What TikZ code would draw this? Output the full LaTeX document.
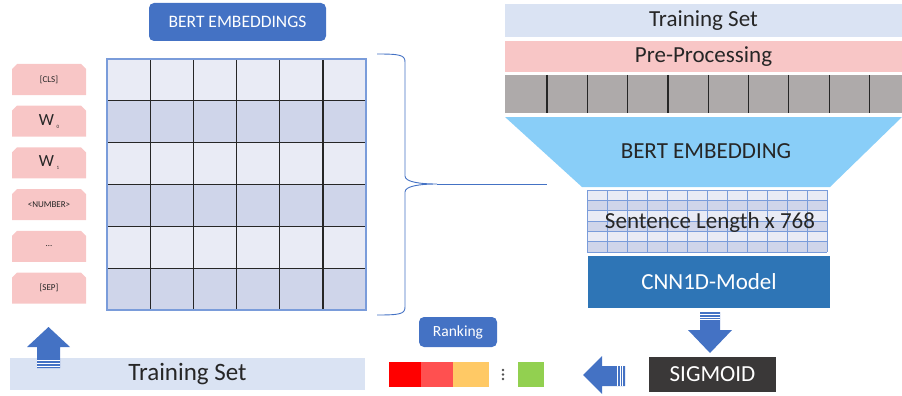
\documentclass[tikz,border=0pt]{standalone}
\usepackage{fontspec}
\setmainfont{Carlito}

\definecolor{pinkbox}{HTML}{F8C6C6}
\definecolor{barblue}{HTML}{DAE3F3}
\definecolor{graybar}{HTML}{AEAAAA}
\definecolor{trapblue}{HTML}{89CEF8}
\definecolor{btnblue}{HTML}{4472C4}
\definecolor{cnnblue}{HTML}{2E75B6}
\definecolor{sigdark}{HTML}{3A3838}
\definecolor{celllight}{HTML}{E9EBF5}
\definecolor{celldark}{HTML}{CFD5EA}
\definecolor{matblue}{HTML}{7A9CDA}
\definecolor{darktext}{HTML}{262626}

\newcommand{\wsub}[1]{{\fontsize{17}{18}\selectfont W\,\raisebox{-3pt}{\fontsize{5}{5}\selectfont #1}}}

\begin{document}
\begin{tikzpicture}
  [x=1pt, y=-1pt,
   every node/.style={inner sep=0pt, outer sep=0pt},
   tokbox/.style={minimum width=74pt, minimum height=31pt, text=darktext, font=\fontsize{9}{10}\selectfont},
   bar/.style={text=darktext, font=\fontsize{23}{27}\selectfont},
   btn/.style={rounded corners=5pt, fill=btnblue, text=white},
   sq/.style={minimum width=32pt, minimum height=25pt},
   blockarrow/.style={fill=btnblue},
   stripe/.style={white, line width=0.6pt}]
  \useasboundingbox (0,0) rectangle (902,396);

  \node[btn, minimum width=177pt, minimum height=38pt, font=\fontsize{17.5}{20}\selectfont] (bembs) at (237.5,22) {BERT EMBEDDINGS};

  \foreach \lbl [count=\i from 0] in {{[CLS]}, {\wsub{0}}, {\wsub{1}}, {<NUMBER>}, {\ldots}, {[SEP]}} {
    \fill[pinkbox] (12,{95+41.7*\i}) -- (12,{69+41.7*\i}) -- (17,{64+41.7*\i})
      -- (81,{64+41.7*\i}) -- (86,{69+41.7*\i}) -- (86,{95+41.7*\i}) -- cycle;
    \node[tokbox] (tok\i) at (49,{79.5+41.7*\i}) {\lbl};
  }

  \foreach \r/\cl in {0/celllight,1/celldark,2/celllight,3/celldark,4/celllight,5/celldark}
    \fill[\cl] (107,{59+41.83*\r}) rectangle (366,{59+41.83*(\r+1)});
  \foreach \k in {1,...,5} {
    \draw[line width=1.3pt, black!85] ({107+43.17*\k},59) -- ({107+43.17*\k},310);
    \draw[line width=1.3pt, black!85] (107,{59+41.83*\k}) -- (366,{59+41.83*\k});
  }
  \node[draw=matblue, line width=1.3pt, minimum width=259pt, minimum height=251pt] (emb) at (236.5,184.5) {};

  \coordinate (brtip) at (437,184);
  \coordinate (lineend) at (547,184);
  \draw[btnblue, line width=0.9pt] (377,54) .. controls (400,54) and (405,55) .. (405,62) -- (405,176)
    .. controls (405,182) and (420,184) .. (brtip)
    .. controls (420,184) and (405,186) .. (405,192) -- (405,307)
    .. controls (405,314) and (400,315) .. (377,315);
  \draw[btnblue, line width=0.9pt] (brtip) -- (lineend);

  \node[bar, fill=barblue, minimum width=397pt, minimum height=33pt] (train) at (703.5,20.5) {Training Set};
  \node[bar, fill=pinkbox, minimum width=397pt, minimum height=31pt] (prep) at (703.5,56.5) {Pre-Processing};
  \node[fill=graybar, minimum width=397pt, minimum height=38pt] (seq) at (703.5,94) {};
  \foreach \k in {0,...,8}
    \draw[line width=1.2pt, black!85] ({547+40.3*\k},75) -- ({547+40.3*\k},113);

  \fill[trapblue] (505,117) -- (902,117) -- (830,187) -- (582,187) -- cycle;
  \node[bar] (bert) at (706,151) {BERT EMBEDDING};

  \foreach \r/\cl in {0/celllight,1/celldark,2/celllight,3/celldark,4/celllight,5/celldark}
    \fill[\cl] (587,{190+10.33*\r}) rectangle (827,{190+10.33*(\r+1)});
  \foreach \k in {0,...,12}
    \draw[matblue, line width=0.6pt] ({587+20*\k},190) -- ({587+20*\k},252);
  \foreach \k in {0,...,6}
    \draw[matblue, line width=0.6pt] (587,{190+10.33*\k}) -- (827,{190+10.33*\k});
  \node[bar] (sent) at (710,222) {Sentence Length x 768};

  \node[bar, fill=cnnblue, text=white, minimum width=242pt, minimum height=52pt] (cnn) at (709,282) {CNN1D-Model};

  \fill[blockarrow] (700,312) -- (720,312) -- (720,330) -- (732,330) -- (710,353) -- (688,330) -- (700,330) -- cycle;
  \foreach \y in {314.5,317,319.5}
    \draw[stripe] (700,\y) -- (720,\y);

  \node[bar, fill=sigdark, text=white, minimum width=127pt, minimum height=35pt] (sig) at (712.5,374.5) {SIGMOID};

  \fill[blockarrow] (625,366) -- (625,386) -- (602,386) -- (602,394) -- (583,375) -- (602,356) -- (602,366) -- cycle;
  \foreach \x in {617.5,620,622.5}
    \draw[stripe] (\x,366) -- (\x,386);

  \node[btn, minimum width=78pt, minimum height=30pt, font=\fontsize{15.5}{18}\selectfont] (rank) at (458,332) {Ranking};
  \node[sq, fill=red] (rk1) at (405,374.5) {};
  \node[sq, fill={rgb,255:red,255;green,80;blue,80}] (rk2) at (437,374.5) {};
  \node[sq, fill={rgb,255:red,255;green,201;blue,101}, minimum width=36pt] (rk3) at (471,374.5) {};
  \foreach \y in {370,374.5,379}
    \fill[darktext!80] (503,\y) circle (1.3);
  \node[sq, fill={rgb,255:red,146;green,208;blue,80}, minimum width=26pt] (rk4) at (531,374.5) {};

  \node[bar, fill=barblue, minimum width=355pt, minimum height=32pt, font=\fontsize{25}{29}\selectfont] (trainb) at (187.5,374) {Training Set};
  \fill[blockarrow] (37,368) -- (37,347) -- (27,347) -- (48.5,327) -- (70,347) -- (60,347) -- (60,368) -- cycle;
  \foreach \y in {360,363,366}
    \draw[stripe] (37,\y) -- (60,\y);
\end{tikzpicture}
\end{document}
